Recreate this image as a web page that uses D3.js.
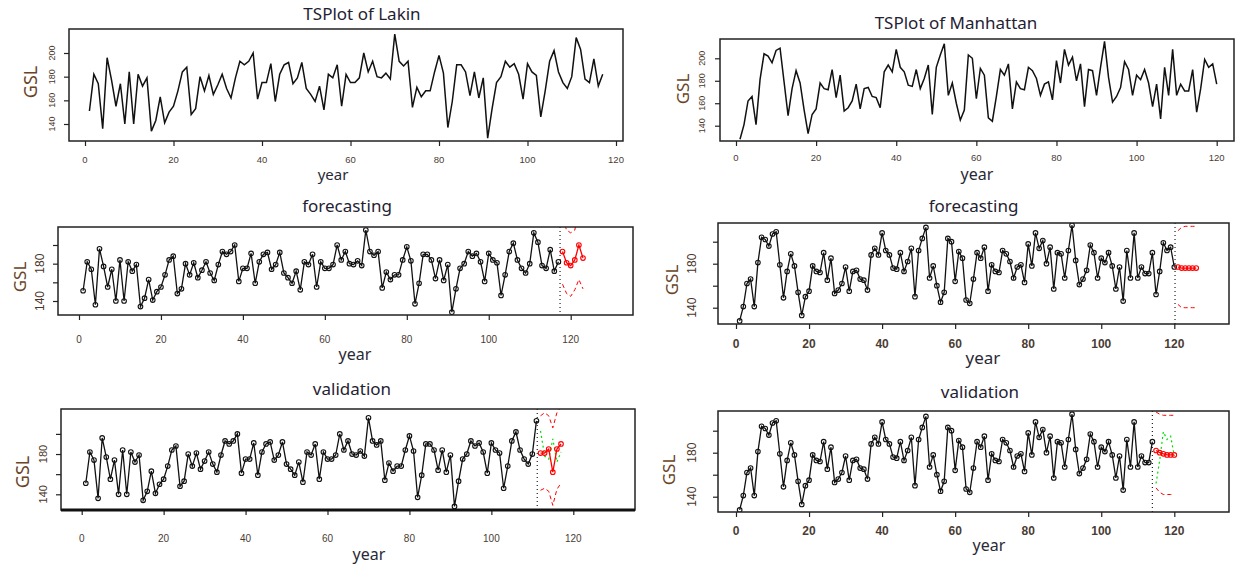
<!DOCTYPE html>
<html>
<head>
<meta charset="utf-8">
<script src="https://cdn.jsdelivr.net/npm/d3@7"></script>
<style>
  body { margin: 0; background: #fff; }
  svg { display: block; }
</style>
</head>
<body>
<div id="chart"></div>
<script>
// GSL series (year 1..n)
const lakinGSL = [
  151, 182, 174, 136, 196, 177, 155, 174, 140, 184,
  140, 182, 172, 179, 134, 143, 163, 141, 150, 155,
  168, 184, 188, 148, 153, 180, 168, 181, 165, 173,
  182, 170, 162, 179, 193, 190, 193, 200, 161, 175,
  175, 191, 159, 182, 190, 192, 174, 179, 192, 170,
  165, 159, 172, 152, 182, 179, 190, 155, 182, 175,
  175, 179, 200, 184, 193, 180, 179, 183, 178, 216,
  193, 189, 193, 154, 171, 163, 168, 168, 184, 198,
  183, 137, 159, 190, 190, 184, 164, 184, 162, 179,
  128, 153, 175, 180, 193, 188, 191, 182, 161, 191,
  184, 181, 146, 168, 193, 202, 184, 175, 170, 180,
  213, 203, 178, 175, 195, 172, 182
];
const manhattanGSL = [
  128, 141, 162, 166, 141, 181, 204, 202, 196, 207,
  209, 179, 149, 173, 189, 178, 154, 133, 150, 155,
  178, 173, 172, 190, 165, 185, 153, 156, 162, 177,
  155, 173, 174, 166, 165, 156, 188, 194, 188, 208,
  192, 188, 176, 175, 190, 173, 182, 194, 150, 192,
  203, 213, 167, 178, 160, 145, 154, 203, 200, 164,
  191, 185, 147, 144, 166, 190, 185, 195, 155, 179,
  173, 172, 192, 189, 182, 167, 177, 179, 163, 198,
  178, 208, 194, 201, 180, 195, 157, 190, 189, 167,
  192, 215, 183, 161, 166, 174, 197, 190, 167, 185,
  181, 190, 178, 157, 177, 146, 192, 167, 208, 167,
  177, 171, 171, 190, 152, 173, 199, 192, 195, 177
];

// forecasts (red) with interval bounds (red dashed)
const lakinFcYears = [118, 119, 120, 121, 122, 123];
const lakinFc      = [193, 181, 178, 184, 200, 186];
const lakinFcLo    = [158, 148, 145, 152, 163, 153];
const lakinFcHi    = [228, 216, 213, 216, 237, 221];

const lakinValYears = [112, 113, 114, 115, 116, 117];
const lakinVal      = [181, 181, 185, 162, 185, 190];
const lakinValLo    = [144, 146, 143, 129, 145, 151];
const lakinValHi    = [218, 221, 218, 206, 221, 227];

const manFcYears = [121, 122, 123, 124, 125, 126];
const manFc      = [177, 176, 176, 176, 176, 176];
const manFcLo    = [143, 140, 140, 140, 140, 140];
const manFcHi    = [210, 213, 214, 214, 214, 214];

const manValYears = [115, 116, 117, 118, 119, 120];
const manVal      = [182, 180, 179, 178, 178, 178];
const manValLo    = [148, 144, 142, 142, 142, 142];
const manValHi    = [217, 215, 214, 214, 214, 214];

// where the dotted split line sits
const lakinFcCut = 117.4, lakinValCut = 111.2, manFcCut = 120.2, manValCut = 114;

const xTicks = [0, 20, 40, 60, 80, 100, 120];
const yTicks = [140, 160, 180, 200];

const W = 1243, H = 571;
const svg = d3.select('#chart').append('svg').attr('width', W).attr('height', H);

const pts = (yrs, vals) => yrs.map((yr, i) => ({ yr: yr, v: vals[i] }));
const idx = arr => arr.map((v, i) => i + 1);
const firstN = (arr, n) => arr.slice(0, n);

const lakinAll = pts(idx(lakinGSL), lakinGSL);
const manAll = pts(idx(manhattanGSL), manhattanGSL);

const BLACK = '#111', RED = '#ff0000', GREEN = '#00dd00';

const panels = [
  { id: 'a', title: 'TSPlot of Lakin', tx: 362, ty: 20,
    box: [69, 29, 623, 141], xr: [85, 616], yr: [124, 53],
    yLab: [140, 160, 180, 200], yLabX: 52, yFont: 9, xLabY: 159, xFont: 9.5, xBold: false,
    gsl: [30, 82, 18], year: [333, 180, 15], lw: 1.5,
    layers: [{ data: lakinAll, color: BLACK, w: 1.5 }] },
  { id: 'b', title: 'TSPlot of Manhattan', tx: 956, ty: 29,
    box: [720, 39, 1234, 141], xr: [736, 1216.7], yr: [125.7, 58.3],
    yLab: [140, 160, 180, 200], yLabX: 702, yFont: 9, xLabY: 157, xFont: 9.5, xBold: false,
    gsl: [682, 89, 17], year: [977, 180, 16],
    layers: [{ data: manAll, color: BLACK, w: 1.5 }] },
  { id: 'c', title: 'forecasting', tx: 347, ty: 212,
    box: [58, 227, 633, 315], xr: [79, 570.7], yr: [301, 245],
    yLab: [140, 180], yLabX: 40, yFont: 12, xLabY: 339, xFont: 10, xBold: false,
    gsl: [19, 277, 17], year: [355, 360, 16], cut: lakinFcCut,
    layers: [
      { data: lakinAll, color: BLACK, w: 1.3, dots: true },
      { data: pts(lakinFcYears, lakinFcHi), color: RED, w: 1, dash: '4,3' },
      { data: pts(lakinFcYears, lakinFcLo), color: RED, w: 1, dash: '4,3' },
      { data: pts(lakinFcYears, lakinFc), color: RED, w: 1.3, dots: true }
    ] },
  { id: 'd', title: 'forecasting', tx: 973.5, ty: 212,
    box: [718, 223, 1229, 324], xr: [736, 1174.3], yr: [307.7, 241.7],
    yLab: [140, 180], yLabX: 692, yFont: 12, xLabY: 344, xFont: 12, xBold: true,
    gsl: [671, 280, 17], year: [983, 364, 17], cut: manFcCut,
    layers: [
      { data: manAll, color: BLACK, w: 1.3, dots: true },
      { data: pts(manFcYears, manFcHi), color: RED, w: 1, dash: '4,3' },
      { data: pts(manFcYears, manFcLo), color: RED, w: 1, dash: '4,3' },
      { data: pts(manFcYears, manFc), color: RED, w: 1.3, dots: true }
    ] },
  { id: 'e', title: 'validation', tx: 352, ty: 395,
    box: [61, 409, 635, 510], xr: [81.7, 573.3], yr: [494.3, 433.9],
    yLab: [140, 180], yLabX: 43, yFont: 11, xLabY: 538, xFont: 10, xBold: false,
    gsl: [22, 472, 18], year: [369, 560, 16], cut: lakinValCut, thickBottom: true,
    layers: [
      { data: firstN(lakinAll, 111), color: BLACK, w: 1.3, dots: true },
      { data: lakinAll.filter(d => lakinValYears.includes(d.yr)), color: GREEN, w: 1.2, dash: '2,3' },
      { data: pts(lakinValYears, lakinValHi), color: RED, w: 1, dash: '4,3' },
      { data: pts(lakinValYears, lakinValLo), color: RED, w: 1, dash: '4,3' },
      { data: pts(lakinValYears, lakinVal), color: RED, w: 1.3, dots: true }
    ] },
  { id: 'f', title: 'validation', tx: 980, ty: 398,
    box: [718, 411, 1229, 512], xr: [736, 1174.3], yr: [496.7, 430.7],
    yLab: [140, 180], yLabX: 692, yFont: 12, xLabY: 531, xFont: 12, xBold: true,
    gsl: [668, 470, 17], year: [989, 551, 16], cut: manValCut,
    layers: [
      { data: firstN(manAll, 114), color: BLACK, w: 1.3, dots: true },
      { data: manAll.filter(d => manValYears.includes(d.yr)), color: GREEN, w: 1.2, dash: '2,3' },
      { data: pts(manValYears, manValHi), color: RED, w: 1, dash: '4,3' },
      { data: pts(manValYears, manValLo), color: RED, w: 1, dash: '4,3' },
      { data: pts(manValYears, manVal), color: RED, w: 1.3, dots: true }
    ] }
];

const labelFont = '"Noto Sans", "Open Sans", sans-serif';
const tickFont = '"Liberation Sans", Arial, sans-serif';

function drawPanel(p) {
  const [l, t, r, b] = p.box;
  const g = svg.append('g').attr('class', 'panel-' + p.id);
  const x = d3.scaleLinear().domain([0, 120]).range(p.xr);
  const y = d3.scaleLinear().domain([140, 200]).range(p.yr);

  svg.append('clipPath').attr('id', 'clip-' + p.id)
    .append('rect').attr('x', l).attr('y', t).attr('width', r - l).attr('height', b - t);

  // x axis ticks
  const xa = g.append('g').attr('transform', `translate(0,${b})`)
    .call(d3.axisBottom(x).tickValues(xTicks).tickSize(5).tickFormat(''));
  xa.select('.domain').remove();
  xa.selectAll('line').attr('stroke', '#222').attr('stroke-width', 1.2);

  g.selectAll('.xlab').data(xTicks).enter().append('text')
    .attr('class', 'xlab')
    .attr('x', d => x(d)).attr('y', p.xLabY)
    .attr('text-anchor', 'middle').attr('dominant-baseline', 'central')
    .style('font-family', tickFont).style('font-size', p.xFont + 'px')
    .style('font-weight', p.xBold ? 'bold' : 'normal')
    .attr('fill', '#4a3c33')
    .text(d => d);

  // y axis ticks
  const ya = g.append('g').attr('transform', `translate(${l},0)`)
    .call(d3.axisLeft(y).tickValues(yTicks).tickSize(5).tickFormat(''));
  ya.select('.domain').remove();
  ya.selectAll('line').attr('stroke', '#222').attr('stroke-width', 1.2);

  g.selectAll('.ylab').data(p.yLab).enter().append('text')
    .attr('class', 'ylab')
    .attr('transform', d => `translate(${p.yLabX},${y(d)}) rotate(-90)`)
    .attr('text-anchor', 'middle').attr('dominant-baseline', 'central')
    .style('font-family', tickFont).style('font-size', p.yFont + 'px')
    .attr('fill', '#4a3528')
    .text(d => d);

  // axis titles
  g.append('text')
    .attr('transform', `translate(${p.gsl[0]},${p.gsl[1]}) rotate(-90)`)
    .attr('text-anchor', 'middle').attr('dominant-baseline', 'central')
    .style('font-family', labelFont).style('font-size', p.gsl[2] + 'px')
    .attr('fill', '#6a4426')
    .text('GSL');

  g.append('text')
    .attr('x', p.year[0]).attr('y', p.year[1])
    .attr('text-anchor', 'middle')
    .style('font-family', labelFont).style('font-size', p.year[2] + 'px')
    .attr('fill', '#2a2a36')
    .text('year');

  g.append('text')
    .attr('x', p.tx).attr('y', p.ty)
    .attr('text-anchor', 'middle')
    .style('font-family', labelFont).style('font-size', '17px')
    .attr('fill', '#1f2233')
    .text(p.title);

  // plotted series, clipped to plot region
  const plot = g.append('g').attr('clip-path', `url(#clip-${p.id})`);
  const line = d3.line().x(d => x(d.yr)).y(d => y(d.v));

  if (p.cut !== undefined) {
    plot.append('line')
      .attr('x1', x(p.cut)).attr('x2', x(p.cut))
      .attr('y1', t).attr('y2', b)
      .attr('stroke', '#222').attr('stroke-width', 1.2)
      .attr('stroke-dasharray', '1,3');
  }

  p.layers.forEach(L => {
    plot.append('path')
      .datum(L.data)
      .attr('d', line)
      .attr('fill', 'none')
      .attr('stroke', L.color)
      .attr('stroke-width', L.w)
      .attr('stroke-dasharray', L.dash || null);
    if (L.dots) {
      plot.append('g').selectAll('circle').data(L.data).enter().append('circle')
        .attr('cx', d => x(d.yr)).attr('cy', d => y(d.v))
        .attr('r', 2.3)
        .attr('fill', 'none')
        .attr('stroke', L.color)
        .attr('stroke-width', 1.1);
    }
  });

  // frame
  g.append('rect')
    .attr('x', l).attr('y', t).attr('width', r - l).attr('height', b - t)
    .attr('fill', 'none').attr('stroke', '#222').attr('stroke-width', 1.5);
  if (p.thickBottom) {
    g.append('line').attr('x1', l).attr('x2', r).attr('y1', b).attr('y2', b)
      .attr('stroke', '#111').attr('stroke-width', 3);
  }
}

panels.forEach(drawPanel);
</script>
</body>
</html>
